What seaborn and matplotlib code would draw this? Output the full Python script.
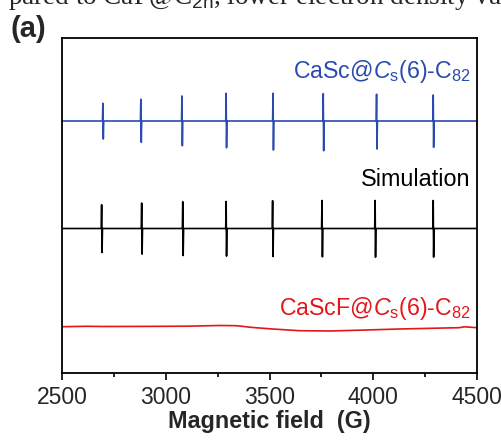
import numpy as np
import pandas as pd
import seaborn as sns
import matplotlib.pyplot as plt

# peak positions (G) and spike heights (arb. units)
blue_peaks = [2698, 2881, 3079, 3292, 3518, 3760, 4017, 4290]
blue_up = [17.7, 21.7, 25.0, 27.7, 27.7, 27.3, 26.7, 26.0]
blue_down = [18.0, 21.3, 24.7, 26.7, 29.0, 29.7, 28.0, 26.3]
blue_base = 252

sim_peaks = [2692, 2885, 3083, 3292, 3516, 3754, 4010, 4290]
sim_up = [23.7, 25.4, 26.7, 27.0, 27.7, 28.0, 28.0, 28.0]
sim_down = [24.0, 25.6, 27.0, 27.6, 28.0, 28.3, 28.6, 28.6]
sim_base = 144.5

red_field = [2500, 2620, 2700, 2900, 3100, 3260, 3340, 3420, 3515, 3644, 3790, 3966, 4125, 4300, 4413, 4440, 4500]
red_signal = [46.3, 46.7, 46.5, 46.6, 46.8, 47.5, 47.3, 45.5, 44.0, 42.3, 42.0, 43.0, 44.0, 44.8, 45.3, 46.2, 45.3]

xticks = [2500, 3000, 3500, 4000, 4500]


def spike_trace(peaks, up, down, base, name):
    xs, ys = [2500], [base]
    for p, u, d in zip(peaks, up, down):
        xs += [p - 3, p - 1, p + 1, p + 3]
        ys += [base, base + u, base - d, base]
    xs.append(4500)
    ys.append(base)
    return pd.DataFrame({"field": xs, "signal": ys, "trace": name})


df = pd.concat([
    spike_trace(blue_peaks, blue_up, blue_down, blue_base, "CaSc"),
    spike_trace(sim_peaks, sim_up, sim_down, sim_base, "Simulation"),
    pd.DataFrame({"field": red_field, "signal": red_signal, "trace": "CaScF"}),
], ignore_index=True)

sns.set_style("ticks")
plt.rcParams["font.family"] = ["Liberation Sans", "DejaVu Sans"]
plt.rcParams["mathtext.fontset"] = "custom"
plt.rcParams["mathtext.rm"] = "Liberation Sans"
plt.rcParams["mathtext.it"] = "Liberation Sans:italic"
plt.rcParams["mathtext.bf"] = "Liberation Sans:bold"

colors = {"CaSc": "#2b4aae", "Simulation": "black", "CaScF": "#e3161b"}

fig = plt.figure(figsize=(5.02, 4.41), dpi=100)
ax = fig.add_axes([62 / 502, 1 - 373 / 441, (477 - 62) / 502, (373 - 38) / 441])
sns.lineplot(data=df, x="field", y="signal", hue="trace", palette=colors,
             sort=False, estimator=None, legend=False, linewidth=1.2, ax=ax)

ax.set_xlim(2500, 4500)
ax.set_ylim(0, 335)
ax.set_xticks(xticks)
ax.set_xticks([2750, 3250, 3750, 4250], minor=True)
ax.set_yticks([])
ax.tick_params(axis="x", which="major", length=5, width=1.2, labelsize=16.5, pad=4, color="black")
ax.tick_params(axis="x", which="minor", length=3, width=1.2, color="black")
for s in ax.spines.values():
    s.set_linewidth(1.3)
    s.set_color("black")
ax.set_xlabel("Magnetic field  (G)", fontsize=16.8, fontweight="bold", labelpad=1)
ax.set_ylabel("")

ax.text(4470, 295, r"CaSc@$\mathit{C}_\mathrm{s}$(6)-C$_{82}$", color=colors["CaSc"],
        fontsize=16.7, ha="right", va="baseline")
ax.text(4470, 187, "Simulation", color="black", fontsize=16.8, ha="right", va="baseline")
ax.text(4470, 58, r"CaScF@$\mathit{C}_\mathrm{s}$(6)-C$_{82}$", color=colors["CaScF"],
        fontsize=16.7, ha="right", va="baseline")

fig.text(11 / 502, 1 - 37 / 441, "(a)", fontsize=21, fontweight="bold", ha="left", va="baseline")
fig.text(8 / 502, 1 - 4 / 441, r"pared to CaF@C$_\mathrm{2n}$, lower electron density value",
         fontsize=19.5, family=["Liberation Serif"], ha="left", va="baseline")

fig.savefig("out.png", dpi=100)
